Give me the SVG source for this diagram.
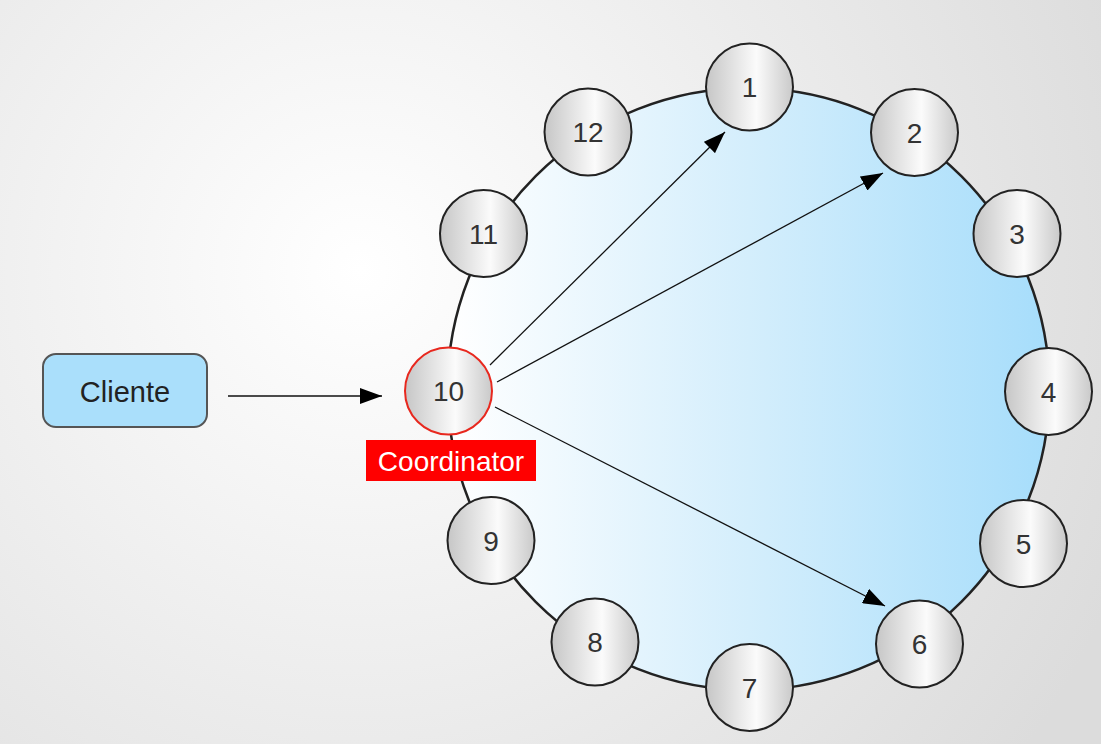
<svg xmlns="http://www.w3.org/2000/svg" width="1101" height="744" viewBox="0 0 1101 744">
  <defs>
    <radialGradient id="bg" gradientUnits="userSpaceOnUse" cx="360" cy="270" r="820">
      <stop offset="0" stop-color="#ffffff"/>
      <stop offset="1" stop-color="#dcdcdc"/>
    </radialGradient>
    <linearGradient id="ringFill" gradientUnits="userSpaceOnUse" x1="448" y1="0" x2="1050" y2="0">
      <stop offset="0" stop-color="#ffffff"/>
      <stop offset="0.5" stop-color="#d4eefc"/>
      <stop offset="1" stop-color="#a6ddfb"/>
    </linearGradient>
    <linearGradient id="nodeFill" x1="0" y1="0" x2="1" y2="0">
      <stop offset="0" stop-color="#c6c6c6"/>
      <stop offset="0.58" stop-color="#fbfbfb"/>
      <stop offset="1" stop-color="#c9c9c9"/>
    </linearGradient>
    <marker id="arrow" viewBox="0 0 22 16" refX="22" refY="8" markerWidth="22" markerHeight="16" markerUnits="userSpaceOnUse" orient="auto">
      <path d="M0,0 L22,8 L0,16 Z" fill="#000"/>
    </marker>
  </defs>
  <style>
    .node circle { fill: url(#nodeFill); stroke: #222; stroke-width: 2; }
    .node text { font-family: "Liberation Sans", Arial, sans-serif; font-size: 28px; fill: #333; text-anchor: middle; }
    .link { stroke: #111; stroke-width: 1.3; fill: none; marker-end: url(#arrow); }
    .label { font-family: "Liberation Sans", Arial, sans-serif; text-anchor: middle; }
  </style>

  <rect width="1101" height="744" fill="url(#bg)"/>

  <!-- ring -->
  <circle id="ring" cx="748.5" cy="389" r="301" fill="url(#ringFill)" stroke="#222" stroke-width="2.5"/>

  <!-- connectors -->
  <g id="connectors">
    <line class="link" x1="228" y1="396" x2="382" y2="396" stroke-width="2"/>
    <line class="link" x1="490" y1="365" x2="725" y2="132"/>
    <line class="link" x1="497" y1="382" x2="883" y2="173"/>
    <line class="link" x1="495" y1="407" x2="885" y2="606"/>
  </g>

  <!-- client -->
  <g id="cliente">
    <rect x="43" y="354" width="164" height="73" rx="13" ry="13" fill="#aadffb" stroke="#555" stroke-width="2"/>
    <text class="label" x="125" y="402" font-size="29" fill="#222">Cliente</text>
  </g>

  <!-- ring members -->
  <g id="n1" class="node"><circle cx="749.5" cy="87" r="43.5"/><text x="749.5" y="97">1</text></g>
  <g id="n2" class="node"><circle cx="914.5" cy="132.5" r="43.5"/><text x="914.5" y="142.5">2</text></g>
  <g id="n3" class="node"><circle cx="1017" cy="233.5" r="43.5"/><text x="1017" y="243.5">3</text></g>
  <g id="n4" class="node"><circle cx="1048.5" cy="391.5" r="43.5"/><text x="1048.5" y="401.5">4</text></g>
  <g id="n5" class="node"><circle cx="1023.5" cy="543.5" r="43.5"/><text x="1023.5" y="553.5">5</text></g>
  <g id="n6" class="node"><circle cx="919.5" cy="644" r="43.5"/><text x="919.5" y="654">6</text></g>
  <g id="n7" class="node"><circle cx="749.5" cy="687.5" r="43.5"/><text x="749.5" y="697.5">7</text></g>
  <g id="n8" class="node"><circle cx="595" cy="642" r="43.5"/><text x="595" y="652">8</text></g>
  <g id="n9" class="node"><circle cx="491" cy="540.5" r="43.5"/><text x="491" y="550.5">9</text></g>
  <g id="n10" class="node">
    <circle cx="448.5" cy="391" r="43.5" style="stroke:#e8281e"/>
    <text x="448.5" y="401">10</text>
  </g>
  <g id="n11" class="node"><circle cx="483.5" cy="233.5" r="43.5"/><text x="483.5" y="243.5">11</text></g>
  <g id="n12" class="node"><circle cx="588" cy="132" r="43.5"/><text x="588" y="142">12</text></g>

  <!-- coordinator tag -->
  <g id="coordinator">
    <rect x="366" y="440" width="170" height="41" fill="#ff0000"/>
    <text class="label" x="451" y="470.5" font-size="28" fill="#ffffff">Coordinator</text>
  </g>
</svg>
